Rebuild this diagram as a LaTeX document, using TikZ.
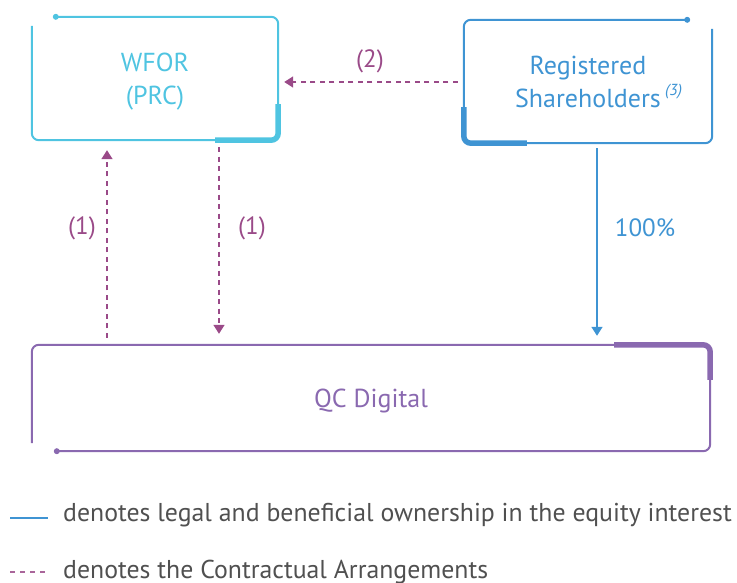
\documentclass[tikz,border=0pt]{standalone}
\usepackage{fontspec}
\setmainfont{PT Sans}
\usetikzlibrary{arrows.meta}

\definecolor{wforc}{HTML}{4FC4E1}
\definecolor{regc}{HTML}{3F94D3}
\definecolor{qcc}{HTML}{8A69B0}
\definecolor{ctrc}{HTML}{9A4A88}
\definecolor{legc}{HTML}{505050}

\tikzset{
  boxnode/.style={minimum width=#1, inner sep=0pt},
  boxtext/.style={inner sep=0pt, align=center, font=\fontsize{26}{33}\selectfont},
  frame/.style={line width=2pt, rounded corners=7pt},
  thickpart/.style={line width=5.5pt, rounded corners=7pt},
  contract/.style={ctrc, line width=1.6pt, dash pattern=on 5pt off 4.5pt,
    -{Triangle[width=11pt,length=9pt]}},
  owner/.style={regc, line width=1.6pt, -{Triangle[width=11pt,length=9pt]}},
  lbl/.style={font=\fontsize{25}{28}\selectfont, inner sep=0pt},
  legtext/.style={legc, font=\fontsize{25.8}{30}\selectfont, inner sep=0pt, anchor=base west},
}

\begin{document}
\begin{tikzpicture}[x=1pt,y=-1pt]
\useasboundingbox (0,0) rectangle (737,583);

% entity boxes (frame outlines) and their captions
\node[boxnode=246pt, minimum height=123pt] (wfor) at (155,78.5) {};
\node[boxnode=248pt, minimum height=123pt] (reg) at (588,81.5) {};
\node[boxnode=678pt, minimum height=106pt] (qc) at (371,398) {};

\node[boxtext, text=wforc] (wfortxt) at ([yshift=-3pt]wfor.center) {WFOR\\(PRC)};
\node[boxtext, text=regc] (regtxt) at (reg.center)
  {Registered\\Shareholders\rlap{\,\raisebox{0.45em}{\fontsize{16}{16}\selectfont\itshape(3)}}};
\node[boxtext, text=qcc] (qctxt) at ([yshift=-3pt]qc.center) {QC Digital};

% WFOR frame
\draw[frame, wforc] ([xshift=24pt]wfor.north west) -- (wfor.north east)
  -- (wfor.south east) -- (wfor.south west) -- ([yshift=-9pt]wfor.north west);
\fill[wforc] ([xshift=24pt]wfor.north west) circle (3pt);
\draw[thickpart, wforc] ([yshift=36pt]wfor.south east) -- (wfor.south east)
  -- ([xshift=-63pt]wfor.south east);

% Registered Shareholders frame
\draw[frame, regc] ([xshift=-25pt]reg.north east) -- (reg.north west)
  -- (reg.south west) -- (reg.south east) -- ([yshift=-9pt]reg.north east);
\fill[regc] ([xshift=-25pt]reg.north east) circle (3pt);
\draw[thickpart, regc] ([yshift=36pt]reg.south west) -- (reg.south west)
  -- ([xshift=63pt]reg.south west);

% QC Digital frame
\draw[frame, qcc] ([xshift=25pt]qc.south west) -- (qc.south east)
  -- (qc.north east) -- (qc.north west) -- ([yshift=8pt]qc.south west);
\fill[qcc] ([xshift=25pt]qc.south west) circle (3pt);
\draw[thickpart, qcc] ([xshift=-96pt]qc.north east) -- (qc.north east)
  -- ([yshift=-35pt]qc.north east);

% connectors
\coordinate (upx) at (107,0);
\coordinate (dnx) at (219,0);
\coordinate (eqx) at (597,0);
\coordinate (hy) at (0,82);

\draw[contract, shorten <=7pt, shorten >=10pt] (upx |- qc.north) -- (upx |- wfor.south);
\draw[contract, shorten <=7pt, shorten >=11pt] (dnx |- wfor.south) -- (dnx |- qc.north);
\draw[contract, shorten <=6pt, shorten >=6pt] (reg.west |- hy) -- (wfor.east |- hy);
\draw[owner, shorten <=5pt, shorten >=9pt] (eqx |- reg.south) -- (eqx |- qc.north);

\node[lbl, text=ctrc] (l1a) at (82,228) {(1)};
\node[lbl, text=ctrc] (l1b) at (252,228) {(1)};
\node[lbl, text=ctrc] (l2) at (370,61) {(2)};
\node[lbl, text=regc] (l3) at (645,228) {100\%};

% legend
\coordinate (k1a) at (10,518);
\coordinate (k1b) at (48,518);
\coordinate (k2a) at (10,572);
\coordinate (k2b) at (48,572);
\draw[regc, line width=1.5pt] (k1a) -- (k1b);
\draw[ctrc!85, line width=1.2pt, dash pattern=on 5pt off 5pt] (k2a) -- (k2b);
\node[legtext] (t1) at (63,521) {denotes legal and beneficial ownership in the equity interest};
\node[legtext] (t2) at (63,578) {denotes the Contractual Arrangements};
\end{tikzpicture}
\end{document}
